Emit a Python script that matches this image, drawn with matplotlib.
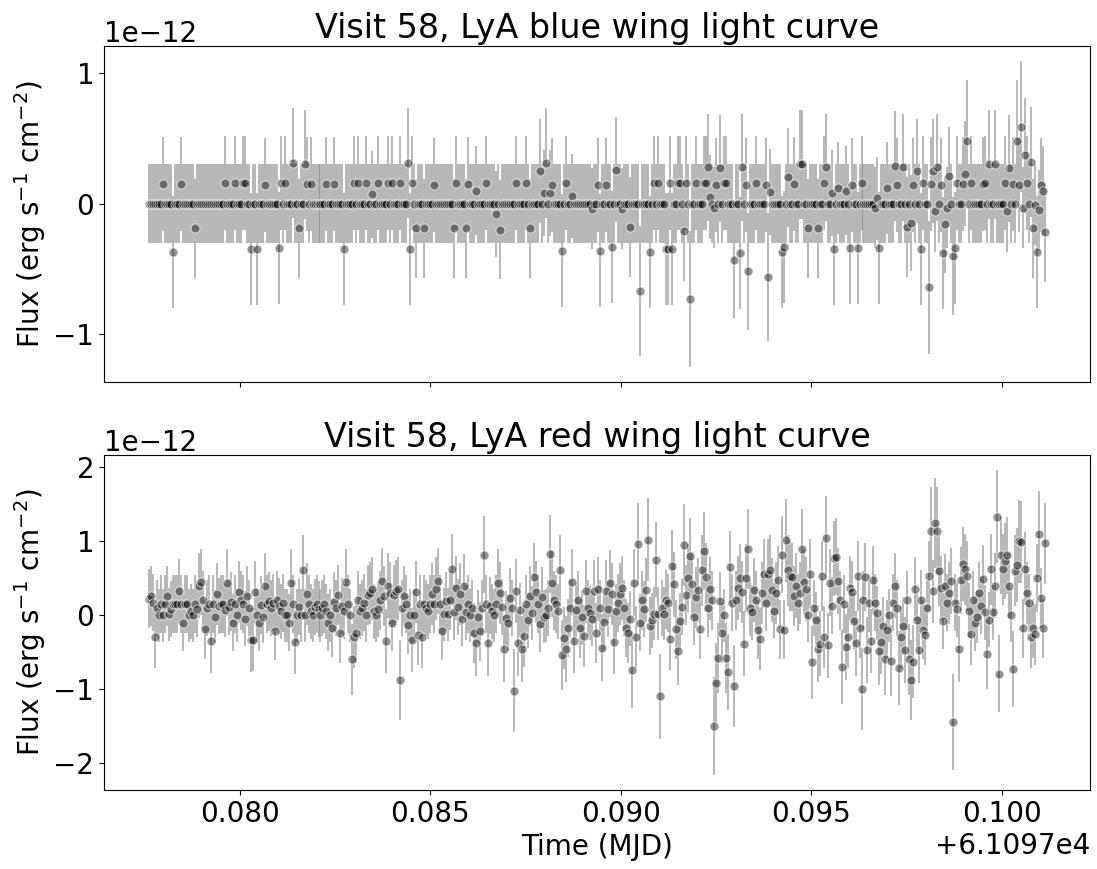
#!/usr/bin/env python
# -*- coding: utf-8 -*-
# Lyman-alpha wing light curves for visit 58 (blue and red wing).

import matplotlib
matplotlib.use("Agg")
import matplotlib.pyplot as plt
from matplotlib.ticker import MultipleLocator
import numpy as np

# == DATA ==
# Time grid: MJD of the first exposure and the sub-exposure cadence (days).
t_start = 61097.07762
t_step = 5.236e-5
n_samples = 450

# Blue wing: most sub-exposures are empty (flux 0, error 0.3e-12).
# Only the non-empty samples are listed, by sample number.
blue_zero_err = 0.30
blue_hit_index = [
    7, 12, 16, 23, 38, 43, 47, 48, 51, 54, 58, 65, 66, 68, 72, 75, 78, 79, 81, 89,
    93, 98, 103, 105, 109, 112, 115, 120, 122, 126, 130, 131, 132, 134, 138, 143,
    153, 154, 159, 160, 164, 169, 174, 176, 184, 189, 191, 196, 198, 199, 201, 202,
    207, 209, 212, 222, 225, 226, 229, 232, 234, 237, 241, 246, 251, 253, 255, 259,
    260, 261, 262, 265, 266, 268, 269, 271, 274, 278, 279, 280, 281, 283, 284, 286,
    288, 289, 293, 296, 297, 299, 300, 304, 309, 310, 311, 317, 318, 320, 323, 326,
    327, 330, 335, 338, 339, 342, 343, 345, 349, 351, 352, 355, 357, 364, 365, 366,
    370, 374, 375, 378, 380, 382, 383, 385, 387, 388, 391, 392, 393, 394, 395, 397,
    398, 399, 400, 401, 403, 404, 405, 408, 409, 410, 412, 418, 419, 421, 424, 429,
    430, 431, 433, 435, 436, 437, 438, 439, 440, 442, 443, 444, 445, 446, 447, 448,
    449]
blue_hit_flux = [
    0.15, -0.37, 0.15, -0.19, 0.16, 0.16, 0.16, 0.16, -0.35, -0.35, 0.14, -0.34, 0.16, 0.16, 0.31, -0.19, 0.30, 0.15, 0.15, 0.15,
    0.15, -0.35, 0.16, 0.16, 0.16, 0.07, 0.16, 0.16, 0.16, 0.16, 0.31, -0.35, 0.16, -0.19, -0.19, 0.14,
    -0.19, 0.16, -0.19, 0.15, 0.10, 0.16, -0.08, -0.20, 0.16, 0.16, -0.19, 0.25, 0.08, 0.31, 0.08, 0.14,
    -0.36, 0.16, 0.06, -0.04, 0.14, -0.36, 0.14, -0.33, 0.26, -0.04, -0.18, -0.67, -0.37, 0.16, 0.16, -0.35,
    -0.35, 0.16, -0.35, 0.16, 0.16, -0.21, 0.16, -0.73, 0.16, 0.16, 0.16, 0.28, 0.05, -0.03, 0.14, 0.27,
    0.16, 0.16, -0.43, -0.38, 0.28, 0.14, -0.52, 0.16, 0.14, -0.56, 0.09, -0.37, -0.33, 0.20, 0.15, 0.30,
    0.30, -0.19, -0.19, 0.16, 0.28, 0.08, -0.35, 0.12, 0.10, -0.34, 0.14, -0.34, 0.16, -0.03, 0.04, -0.34,
    0.12, 0.29, 0.14, 0.28, -0.18, -0.15, 0.14, 0.25, -0.35, 0.16, -0.64, 0.15, 0.25, -0.06, 0.28, 0.14,
    -0.38, -0.16, -0.03, 0.21, -0.40, -0.34, 0.16, 0.15, 0.23, 0.48, 0.16, 0.15, 0.16, 0.30, 0.30, 0.16,
    -0.06, 0.27, 0.15, 0.48, 0.14, 0.59, -0.03, 0.37, 0.16, 0.32, -0.19, -0.01, -0.37, -0.05, 0.14, 0.10,
    -0.22]
blue_hit_err = [
    0.36, 0.43, 0.36, 0.38, 0.36, 0.36, 0.36, 0.36, 0.43, 0.43, 0.36, 0.43, 0.36, 0.36, 0.42, 0.38, 0.42, 0.36, 0.36, 0.36,
    0.36, 0.43, 0.36, 0.36, 0.36, 0.33, 0.36, 0.36, 0.36, 0.36, 0.42, 0.43, 0.36, 0.38, 0.38, 0.36,
    0.38, 0.36, 0.38, 0.36, 0.34, 0.36, 0.33, 0.38, 0.36, 0.36, 0.38, 0.40, 0.33, 0.42, 0.33, 0.36,
    0.43, 0.36, 0.32, 0.31, 0.36, 0.43, 0.36, 0.43, 0.40, 0.31, 0.38, 0.50, 0.43, 0.36, 0.36, 0.43,
    0.43, 0.36, 0.43, 0.36, 0.36, 0.38, 0.36, 0.52, 0.36, 0.36, 0.36, 0.41, 0.32, 0.31, 0.36, 0.41,
    0.36, 0.36, 0.45, 0.43, 0.41, 0.36, 0.45, 0.36, 0.36, 0.49, 0.33, 0.43, 0.43, 0.38, 0.36, 0.42,
    0.42, 0.38, 0.38, 0.36, 0.41, 0.33, 0.43, 0.35, 0.34, 0.43, 0.36, 0.43, 0.36, 0.31, 0.32, 0.43,
    0.35, 0.42, 0.36, 0.41, 0.38, 0.37, 0.36, 0.40, 0.43, 0.36, 0.51, 0.36, 0.40, 0.31, 0.41, 0.36,
    0.43, 0.37, 0.31, 0.38, 0.45, 0.43, 0.36, 0.36, 0.40, 0.47, 0.36, 0.36, 0.36, 0.42, 0.42, 0.36,
    0.31, 0.41, 0.36, 0.47, 0.36, 0.50, 0.31, 0.44, 0.36, 0.42, 0.38, 0.31, 0.43, 0.31, 0.36, 0.34,
    0.38]

# Red wing: every sample, flux and 1-sigma error (1e-12 erg/s/cm2).
red_flux = [
    0.22, 0.26, 0.17, -0.30, 0.10, 0.00, 0.15, 0.00, 0.15, 0.26,
    0.01, 0.08, 0.15, 0.15, 0.15, 0.33, 0.15, -0.10, 0.15, 0.15,
    0.00, 0.05, 0.00, 0.15, 0.08, 0.40, 0.45, 0.20, -0.19, 0.10,
    0.15, -0.35, 0.15, -0.02, 0.29, 0.12, 0.15, 0.15, 0.07, 0.44,
    0.11, 0.18, -0.10, 0.15, 0.00, 0.31, 0.20, 0.15, -0.05, 0.26,
    0.10, -0.34, -0.33, 0.31, 0.00, -0.10, 0.14, -0.02, 0.40, 0.15,
    0.19, 0.10, 0.17, -0.21, 0.20, 0.12, 0.05, 0.16, 0.00, 0.00,
    -0.10, 0.44, 0.15, -0.36, 0.00, 0.11, 0.00, 0.61, 0.00, 0.29,
    0.15, 0.05, 0.00, 0.11, 0.15, 0.08, 0.00, 0.10, 0.15, 0.05,
    -0.10, 0.00, -0.17, 0.18, 0.10, 0.27, -0.24, 0.12, 0.05, 0.45,
    0.15, 0.00, -0.60, -0.30, -0.24, 0.20, 0.05, 0.10, 0.17, 0.00,
    0.27, 0.30, 0.36, 0.05, 0.00, 0.08, 0.20, 0.46, 0.26, -0.35,
    0.40, 0.30, -0.10, 0.27, 0.32, 0.36, -0.88, 0.10, 0.26, 0.15,
    -0.13, 0.00, -0.34, 0.00, 0.31, -0.27, 0.15, -0.30, 0.15, 0.10,
    0.05, 0.15, 0.29, 0.15, 0.36, 0.46, 0.15, -0.21, 0.01, 0.19,
    0.01, 0.20, 0.62, 0.04, 0.37, 0.11, 0.28, -0.05, 0.39, 0.04,
    0.15, 0.00, 0.10, -0.24, -0.38, -0.02, -0.22, 0.10, 0.82, 0.15,
    -0.38, 0.13, 0.05, 0.00, 0.15, 0.44, 0.30, 0.11, -0.46, -0.04,
    -0.11, 0.23, 0.10, -1.02, 0.33, -0.38, 0.07, -0.46, -0.28, 0.15,
    -0.07, 0.26, 0.03, 0.52, 0.31, 0.15, -0.12, 0.24, -0.02, 0.00,
    0.10, 0.83, 0.43, 0.20, 0.15, 0.05, 0.61, -0.54, -0.31, -0.46,
    -0.17, 0.09, 0.45, -0.35, 0.07, 0.20, -0.18, -0.03, -0.28, 0.32,
    0.10, 0.03, -0.05, 0.32, -0.24, 0.35, 0.10, -0.44, -0.09, 0.32,
    0.08, 0.43, 0.28, -0.36, 0.05, 0.16, 0.29, 0.37, 0.10, -0.17,
    -0.24, -0.05, -0.74, 0.44, -0.30, 0.96, -0.10, 0.20, 0.08, 0.34,
    1.02, -0.15, -0.07, 0.02, 0.75, 0.02, -1.10, 0.10, 0.02, 0.21,
    0.16, -0.32, 0.66, 0.42, -0.19, -0.48, -0.08, 0.11, 0.95, 0.27,
    0.50, 0.80, 0.42, -0.03, 0.24, 0.34, -0.19, 0.61, 0.87, 0.51,
    0.09, 0.36, 0.20, -1.50, -0.92, -0.58, 0.19, -0.24, 0.00, -0.58,
    -0.77, 0.65, 0.17, -0.96, 0.20, 0.37, 0.50, 0.31, -0.39, 0.50,
    0.90, 0.10, 0.04, 0.34, 0.20, -0.20, -0.32, 0.30, 0.56, 0.17,
    0.56, 0.61, 0.34, 0.06, 0.30, 0.48, -0.19, 0.82, -0.20, 1.01,
    0.61, 0.53, 0.51, 0.26, 0.40, 0.17, 0.30, 0.90, 0.45, 0.35,
    0.00, 0.56, -0.64, 0.10, -0.06, -0.46, -0.39, 0.53, -0.30, 1.04,
    -0.41, 0.44, 0.13, 0.77, 0.79, 0.46, 0.20, -0.70, 0.15, -0.43,
    -0.30, 0.37, 0.31, -0.08, -0.38, 0.53, -0.18, -1.00, 0.20, 0.52,
    -0.47, 0.16, -0.35, 0.48, 0.17, 0.03, -0.48, -0.36, -0.15, -0.60,
    -0.20, 0.00, -0.62, 0.17, 0.40, 0.10, -0.72, -0.30, -0.15, -0.47,
    0.20, -0.60, -0.88, -0.63, 0.36, -0.07, -0.47, 0.21, -0.20, -0.27,
    0.10, 0.53, 1.14, 0.32, 1.25, 1.14, 0.60, 0.37, -0.08, 0.39,
    0.17, 0.30, 0.46, -1.44, 0.17, 0.08, -0.46, 0.47, 0.69, 0.62,
    0.53, 0.06, -0.26, 0.20, -0.11, -0.02, 0.30, 0.13, 0.49, 0.04,
    -0.53, -0.06, 0.62, 0.04, 0.40, 1.33, -0.79, 0.81, 0.62, 0.73,
    0.81, 0.40, 0.00, -0.73, 0.60, 0.68, 1.00, 0.99, -0.18, 0.63,
    0.30, 0.16, -0.29, -0.18, -0.26, 0.50, 1.10, 0.23, -0.18, 0.97]
red_err = [
    0.40, 0.41, 0.39, 0.42, 0.38, 0.36, 0.39, 0.36, 0.39, 0.41,
    0.36, 0.38, 0.39, 0.39, 0.39, 0.43, 0.39, 0.38, 0.39, 0.39,
    0.36, 0.37, 0.36, 0.39, 0.38, 0.44, 0.45, 0.40, 0.40, 0.38,
    0.39, 0.43, 0.39, 0.36, 0.42, 0.38, 0.39, 0.39, 0.37, 0.45,
    0.38, 0.40, 0.38, 0.39, 0.36, 0.42, 0.40, 0.39, 0.37, 0.41,
    0.38, 0.43, 0.43, 0.42, 0.36, 0.38, 0.39, 0.36, 0.44, 0.39,
    0.40, 0.38, 0.39, 0.40, 0.40, 0.38, 0.37, 0.39, 0.36, 0.36,
    0.38, 0.45, 0.39, 0.43, 0.36, 0.38, 0.36, 0.48, 0.36, 0.42,
    0.39, 0.37, 0.36, 0.38, 0.39, 0.38, 0.36, 0.38, 0.39, 0.37,
    0.38, 0.36, 0.39, 0.40, 0.38, 0.41, 0.41, 0.38, 0.37, 0.45,
    0.39, 0.36, 0.48, 0.42, 0.41, 0.40, 0.37, 0.38, 0.39, 0.36,
    0.41, 0.42, 0.43, 0.37, 0.36, 0.38, 0.40, 0.45, 0.41, 0.43,
    0.44, 0.42, 0.38, 0.41, 0.42, 0.43, 0.54, 0.38, 0.41, 0.39,
    0.39, 0.36, 0.43, 0.36, 0.42, 0.41, 0.39, 0.42, 0.39, 0.38,
    0.37, 0.39, 0.42, 0.39, 0.43, 0.45, 0.39, 0.40, 0.36, 0.40,
    0.36, 0.40, 0.48, 0.37, 0.43, 0.38, 0.42, 0.37, 0.44, 0.37,
    0.39, 0.36, 0.38, 0.41, 0.44, 0.36, 0.40, 0.38, 0.52, 0.39,
    0.44, 0.39, 0.37, 0.36, 0.39, 0.45, 0.42, 0.38, 0.45, 0.37,
    0.38, 0.41, 0.38, 0.56, 0.43, 0.44, 0.37, 0.45, 0.42, 0.39,
    0.37, 0.41, 0.37, 0.46, 0.42, 0.39, 0.38, 0.41, 0.36, 0.36,
    0.38, 0.53, 0.45, 0.40, 0.39, 0.37, 0.48, 0.47, 0.42, 0.45,
    0.39, 0.38, 0.45, 0.43, 0.37, 0.40, 0.40, 0.37, 0.42, 0.42,
    0.38, 0.37, 0.37, 0.42, 0.41, 0.43, 0.38, 0.45, 0.38, 0.42,
    0.38, 0.45, 0.42, 0.43, 0.37, 0.39, 0.42, 0.43, 0.38, 0.39,
    0.41, 0.37, 0.51, 0.45, 0.42, 0.55, 0.38, 0.40, 0.38, 0.43,
    0.56, 0.39, 0.37, 0.36, 0.51, 0.36, 0.58, 0.38, 0.36, 0.40,
    0.39, 0.42, 0.49, 0.44, 0.40, 0.46, 0.38, 0.38, 0.55, 0.41,
    0.46, 0.52, 0.44, 0.37, 0.41, 0.43, 0.40, 0.48, 0.53, 0.46,
    0.38, 0.43, 0.40, 0.66, 0.54, 0.48, 0.40, 0.41, 0.36, 0.48,
    0.51, 0.49, 0.39, 0.55, 0.40, 0.43, 0.46, 0.42, 0.44, 0.46,
    0.54, 0.38, 0.37, 0.43, 0.40, 0.40, 0.42, 0.42, 0.47, 0.39,
    0.47, 0.48, 0.43, 0.37, 0.42, 0.46, 0.40, 0.52, 0.40, 0.56,
    0.48, 0.47, 0.46, 0.41, 0.44, 0.39, 0.42, 0.54, 0.45, 0.43,
    0.36, 0.47, 0.49, 0.38, 0.37, 0.45, 0.44, 0.47, 0.42, 0.57,
    0.44, 0.45, 0.39, 0.51, 0.52, 0.45, 0.40, 0.50, 0.39, 0.45,
    0.42, 0.43, 0.42, 0.38, 0.44, 0.47, 0.40, 0.56, 0.40, 0.46,
    0.45, 0.39, 0.43, 0.46, 0.39, 0.37, 0.46, 0.43, 0.39, 0.48,
    0.40, 0.36, 0.48, 0.39, 0.44, 0.38, 0.50, 0.42, 0.39, 0.45,
    0.40, 0.48, 0.54, 0.49, 0.43, 0.37, 0.45, 0.40, 0.40, 0.41,
    0.38, 0.47, 0.59, 0.42, 0.61, 0.59, 0.48, 0.43, 0.38, 0.44,
    0.39, 0.42, 0.45, 0.65, 0.39, 0.38, 0.45, 0.45, 0.50, 0.48,
    0.47, 0.37, 0.41, 0.40, 0.38, 0.36, 0.42, 0.39, 0.46, 0.37,
    0.47, 0.37, 0.48, 0.37, 0.44, 0.63, 0.52, 0.52, 0.48, 0.51,
    0.52, 0.44, 0.36, 0.51, 0.48, 0.50, 0.56, 0.56, 0.40, 0.49,
    0.42, 0.39, 0.42, 0.40, 0.41, 0.46, 0.58, 0.41, 0.40, 0.55]

visit = 58
flux_unit = 1e-12

# == PROC ==
time = t_start + t_step * np.arange(n_samples)

blue_flux = np.zeros(n_samples)
blue_err = np.full(n_samples, blue_zero_err)
blue_flux[blue_hit_index] = blue_hit_flux
blue_err[blue_hit_index] = blue_hit_err

curves = [
    ("blue", blue_flux * flux_unit, blue_err * flux_unit),
    ("red", np.array(red_flux) * flux_unit, np.array(red_err) * flux_unit),
]

# == PLOT ==
plt.rcParams["font.size"] = 20

fig, axes = plt.subplots(2, 1, sharex=True, figsize=(10.97, 8.69), dpi=100)
axes[0].set_position([0.0948, 0.5604, 0.8988, 0.3866])
axes[1].set_position([0.0948, 0.0909, 0.8988, 0.3855])

for ax, (wing, flux, err) in zip(axes, curves):
    ax.errorbar(time, flux, yerr=err, fmt="o", ecolor=(0.5, 0.5, 0.5, 0.55),
                elinewidth=1.5, markersize=6.5,
                markerfacecolor=(0.0, 0.0, 0.0, 0.42),
                markeredgecolor=(1.0, 1.0, 1.0, 0.6), markeredgewidth=0.8)
    ax.set_title(f"Visit {visit}, LyA {wing} wing light curve", fontsize=24)
    ax.set_ylabel("Flux (erg s$^{-1}$ cm$^{-2}$)")
    ax.yaxis.set_major_locator(MultipleLocator(flux_unit))

axes[1].set_xlabel("Time (MJD)")

plt.savefig("out.png", dpi=100)
# EOF .
